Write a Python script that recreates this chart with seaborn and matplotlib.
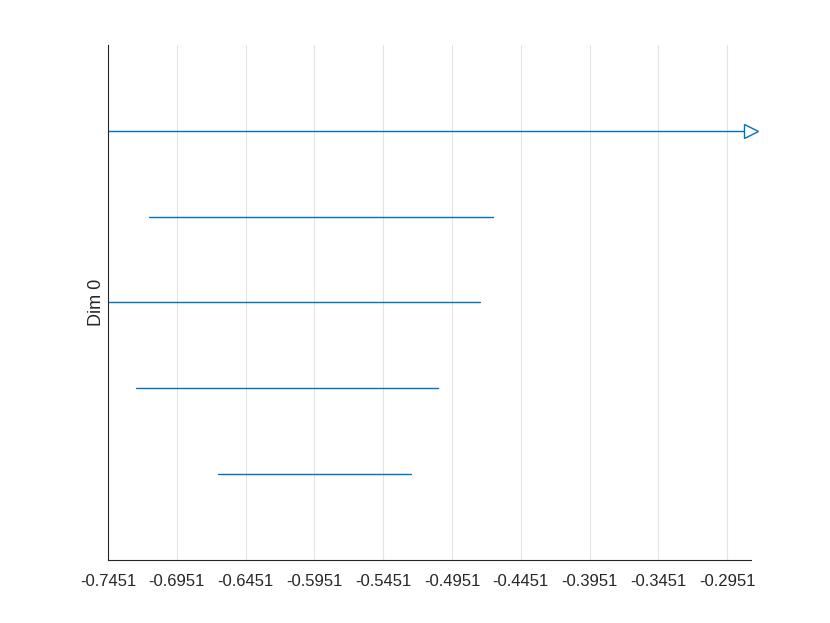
import matplotlib
matplotlib.use('Agg')
import matplotlib.pyplot as plt
import pandas as pd
import seaborn as sns

# Intervalos (nascimento, morte) da dimensao 0, de cima para baixo
births = [-0.7451, -0.7153, -0.7451, -0.7247, -0.6651]
deaths = [None, -0.4652, -0.4747, -0.5052, -0.5248]   # None = infinito
rows = [5, 4, 3, 2, 1]
tick_values = [-0.7451, -0.6951, -0.6451, -0.5951, -0.5451, -0.4951,
               -0.4451, -0.3951, -0.3451, -0.2951]
tick_labels = ['-0.7451', '-0.6951', '-0.6451', '-0.5951', '-0.5451', '-0.4951',
               '-0.4451', '-0.3951', '-0.3451', '-0.2951']
x_max = -0.2778

sns.set_style('white')
plt.rcParams['font.family'] = ['Liberation Sans', 'DejaVu Sans']

blue = '#0072BD'
fig = plt.figure(figsize=(8.3, 6.23), dpi=100)
ax = fig.add_axes([0.1301, 0.1011, 0.9048 - 0.1301, 0.9278 - 0.1011])

# Montar tabela longa para o seaborn
recs = []
for i, (b, d, r) in enumerate(zip(births, deaths, rows)):
    end = x_max if d is None else d
    recs.append({'bar': i, 'x': b, 'y': r})
    recs.append({'bar': i, 'x': end, 'y': r})
df = pd.DataFrame(recs)

sns.lineplot(data=df, x='x', y='y', units='bar', estimator=None,
             color=blue, linewidth=1, ax=ax, legend=False, sort=False)

# Seta para barras infinitas
for d, r in zip(deaths, rows):
    if d is None:
        ax.plot([x_max], [r], marker='>', markersize=10, markerfacecolor='white',
                markeredgecolor=blue, markeredgewidth=1, clip_on=False, zorder=5)

ax.set_xlim(-0.7451, x_max)
ax.set_ylim(0, 6)
ax.set_xticks(tick_values)
ax.set_xticklabels(tick_labels, fontsize=12, color='#262626')
ax.set_yticks([])
ax.xaxis.grid(True, color='#e3e3e3', linewidth=0.8)
ax.set_axisbelow(True)
ax.tick_params(axis='x', direction='in', length=4, width=0.6, color='#262626', pad=10)
for s in ['top', 'right']:
    ax.spines[s].set_visible(False)
for s in ['left', 'bottom']:
    ax.spines[s].set_color('#262626')
    ax.spines[s].set_linewidth(0.8)
ax.set_xlabel('')
ax.set_ylabel('Dim 0', fontsize=13, color='#262626', labelpad=2)

fig.savefig('out.png', dpi=100)
